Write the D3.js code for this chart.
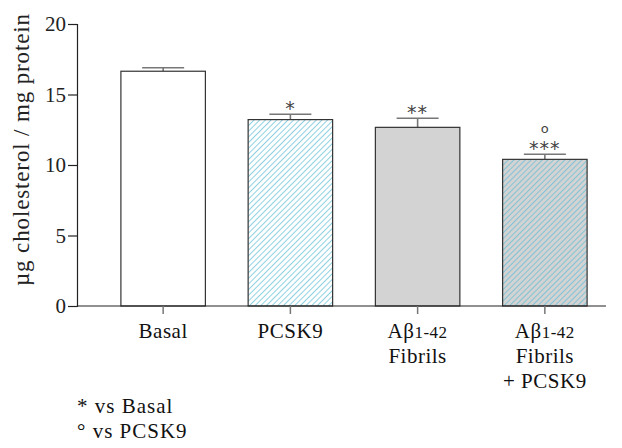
<!DOCTYPE html>
<html>
<head>
<meta charset="utf-8">
<script src="https://cdn.jsdelivr.net/npm/d3@7"></script>
<style>
  body { margin: 0; background: #fff; }
  svg { display: block; font-family: "Liberation Serif", "DejaVu Serif", serif; }
</style>
</head>
<body>
<svg id="chart" width="622" height="448"></svg>
<script>
// Cholesterol content per condition
const groups = ["Basal", "PCSK9", "Abeta", "AbetaPCSK9"];
const means = [16.65, 13.22, 12.67, 10.4];
const sems = [0.25, 0.38, 0.65, 0.36];
const stars = ["", "*", "**", "***"];
const circles = ["", "", "", "o"];
const yTicks = [0, 5, 10, 15, 20];

const svg = d3.select("#chart");
const axisLeftX = 77;

const x = d3.scaleBand().domain(groups).range([98, 610]).paddingInner(0.336).paddingOuter(0.18);
const y = d3.scaleLinear().domain([0, 20]).range([306, 24]);

// hatch patterns
const defs = svg.append("defs");
function hatch(id, bg) {
  const p = defs.append("pattern").attr("id", id).attr("patternUnits", "userSpaceOnUse")
    .attr("width", 4).attr("height", 4).attr("patternTransform", "rotate(45)");
  p.append("rect").attr("width", 4).attr("height", 4).attr("fill", bg);
  p.append("line").attr("x1", 0).attr("y1", 0).attr("x2", 0).attr("y2", 4)
    .attr("stroke", "#5fbdd6").attr("stroke-width", 1.4);
}
hatch("hatchWhite", "#ffffff");
hatch("hatchGray", "#d3d3d3");
const fills = ["#ffffff", "url(#hatchWhite)", "#d3d3d3", "url(#hatchGray)"];

// y axis
const yAxis = svg.append("g").attr("transform", `translate(${axisLeftX},0)`)
  .call(d3.axisLeft(y).tickValues(yTicks).tickSize(9).tickPadding(2));
yAxis.select(".domain").attr("stroke", "#222").attr("stroke-width", 1.2);
yAxis.selectAll(".tick line").attr("stroke", "#222").attr("stroke-width", 1.2);
yAxis.selectAll(".tick text").attr("font-size", 21).attr("fill", "#222")
  .attr("font-family", "Liberation Serif, serif");

// y label
svg.append("text")
  .attr("transform", `translate(29,150) rotate(-90)`)
  .attr("text-anchor", "middle").attr("font-size", 23).attr("fill", "#222")
  .attr("textLength", 272).attr("lengthAdjust", "spacing")
  .text("µg cholesterol / mg protein");

// bars with error bars and significance marks
const bars = svg.append("g");
groups.forEach((g, i) => {
  const bx = x(g), bw = x.bandwidth(), cx = bx + bw / 2;
  const top = y(means[i] + sems[i]);
  bars.append("line").attr("x1", cx).attr("x2", cx)
    .attr("y1", y(means[i])).attr("y2", top)
    .attr("stroke", "#777").attr("stroke-width", 1.6);
  bars.append("line").attr("x1", cx - 21).attr("x2", cx + 21)
    .attr("y1", top).attr("y2", top)
    .attr("stroke", "#777").attr("stroke-width", 1.6);
  bars.append("rect").attr("x", bx).attr("y", y(means[i]))
    .attr("width", bw).attr("height", y(0) - y(means[i]))
    .attr("fill", fills[i]).attr("stroke", "#333").attr("stroke-width", 1.2);
  if (stars[i]) {
    bars.append("text").attr("x", cx).attr("y", top + 1)
      .attr("text-anchor", "middle").attr("font-size", 19).attr("fill", "#444")
      .attr("font-family", "DejaVu Sans, sans-serif")
      .attr("letter-spacing", 1)
      .text(stars[i]);
  }
  if (circles[i]) {
    bars.append("text").attr("x", cx).attr("y", top - 21)
      .attr("text-anchor", "middle").attr("font-size", 13).attr("fill", "#444")
      .attr("font-family", "DejaVu Sans, sans-serif")
      .text(circles[i]);
  }
});

// x axis
const xAxis = svg.append("g").attr("transform", `translate(0,${y(0)})`)
  .call(d3.axisBottom(x).tickSize(8).tickFormat(""));
xAxis.select(".domain").attr("d", `M${axisLeftX},0H606`).attr("stroke", "#222").attr("stroke-width", 1.2);
xAxis.selectAll(".tick line").attr("stroke", "#777").attr("stroke-width", 1.5);

// category labels
const labelLines = {
  Basal: [["Basal"]],
  PCSK9: [["PCSK9"]],
  Abeta: [["Aβ", "1-42"], ["Fibrils"]],
  AbetaPCSK9: [["Aβ", "1-42"], ["Fibrils"], ["+ PCSK9"]]
};
groups.forEach(g => {
  const cx = x(g) + x.bandwidth() / 2;
  labelLines[g].forEach((parts, li) => {
    const t = svg.append("text").attr("x", cx).attr("y", 338 + li * 25)
      .attr("text-anchor", "middle").attr("font-size", 21).attr("fill", "#111")
      .attr("letter-spacing", 0.5);
    t.append("tspan").text(parts[0]);
    if (parts[1]) t.append("tspan").attr("font-size", 17).text(parts[1]);
  });
});

// significance key
svg.append("text").attr("x", 77).attr("y", 413).attr("font-size", 21).attr("fill", "#111")
  .attr("letter-spacing", 1).text("* vs Basal");
svg.append("text").attr("x", 77).attr("y", 438).attr("font-size", 21).attr("fill", "#111")
  .attr("letter-spacing", 1).text("° vs PCSK9");
</script>
</body>
</html>
